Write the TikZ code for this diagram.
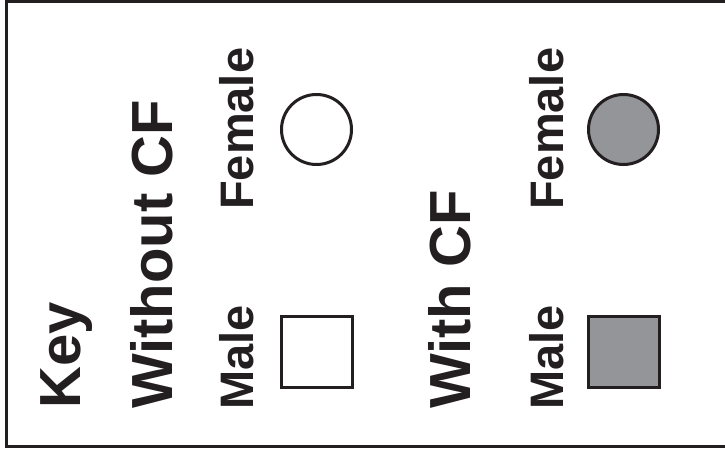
\documentclass[tikz,border=0pt]{standalone}
\usepackage{fontspec}
\setmainfont{Liberation Sans}
\usetikzlibrary{positioning}
\definecolor{cfgray}{HTML}{939598}
\definecolor{keyline}{HTML}{231F20}

\begin{document}
\begin{tikzpicture}[x=1pt,y=-1pt,
  head/.style={rotate=90,anchor=base west,inner sep=0pt,font=\bfseries\fontsize{58}{60}\selectfont,text=keyline},
  sex/.style={rotate=90,anchor=base west,inner sep=0pt,font=\bfseries\fontsize{47}{50}\selectfont,text=keyline},
  female/.style={draw=keyline,circle,line width=3pt,minimum size=70pt,inner sep=0pt},
  male/.style={draw=keyline,rectangle,line width=3pt,minimum size=71pt,inner sep=0pt}]
\clip (0,0) rectangle (725,450);
\useasboundingbox (0,0) rectangle (725,450);
\draw[keyline,line width=3pt] (6.5,1.5) rectangle (760,446.5);
\node[head] (key) at (80,409) {Key};
\node[head] (without) at (172,409) {Without CF};
\node[sex] (male1) at (253,410) {Male};
\node[sex] (female1) at (253,210) {Female};
\node[male,fill=white] (sq1) at (317,351.5) {};
\node[female,fill=white] (ci1) at (316.5,129.5) {};
\node[head] (with) at (470,409) {With CF};
\node[sex] (male2) at (563,410) {Male};
\node[sex] (female2) at (563,210) {Female};
\node[male,fill=cfgray] (sq2) at (623.5,351.5) {};
\node[female,fill=cfgray] (ci2) at (623.5,129.5) {};
\end{tikzpicture}
\end{document}
